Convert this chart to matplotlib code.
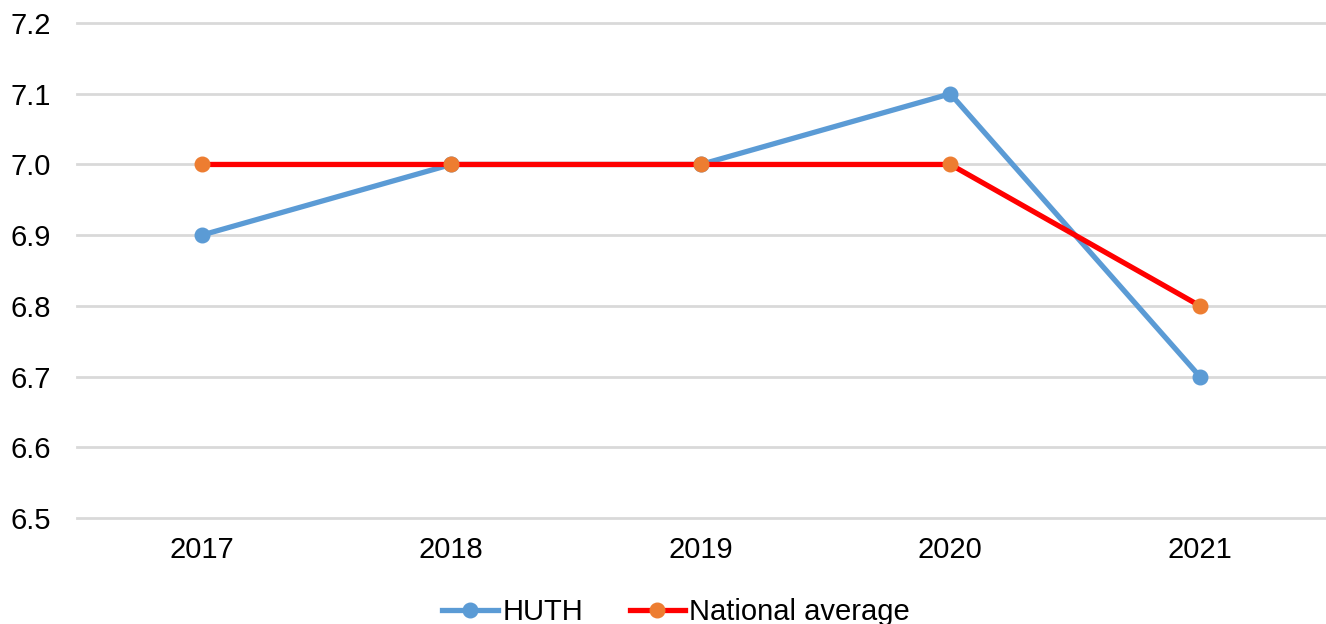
import matplotlib.pyplot as plt

years = ["2017", "2018", "2019", "2020", "2021"]
huth = [6.9, 7.0, 7.0, 7.1, 6.7]
national = [7.0, 7.0, 7.0, 7.0, 6.8]
y_ticks = [6.5, 6.6, 6.7, 6.8, 6.9, 7.0, 7.1, 7.2]

plt.rcParams['font.family'] = ['Liberation Sans', 'DejaVu Sans']

fig = plt.figure(figsize=(13.26, 6.24), dpi=100)
ax = fig.add_axes([0.058, 0.170, 0.941, 0.793])

x = list(range(len(years)))
ax.plot(x, huth, color='#5B9BD5', lw=3.8, marker='o', markersize=10.5,
        markerfacecolor='#5B9BD5', markeredgecolor='#5B9BD5', label='HUTH', zorder=3)
ax.plot(x, national, color='#FF0000', lw=3.8, marker='o', markersize=10.5,
        markerfacecolor='#ED7D31', markeredgecolor='#ED7D31', label='National average', zorder=4)

ax.set_xlim(-0.5, len(years) - 0.5)
ax.set_ylim(6.5, 7.2)
ax.set_xticks(x)
ax.set_xticklabels(years)
ax.set_yticks(y_ticks)
ax.set_yticklabels([f"{v:.1f}" for v in y_ticks])
ax.tick_params(length=0, labelsize=21, colors='#000000')
ax.tick_params(axis='x', pad=13)
ax.tick_params(axis='y', pad=19)
ax.grid(axis='y', color='#D9D9D9', lw=2)
for gl in ax.get_ygridlines():
    gl.set_clip_on(False)
ax.set_axisbelow(True)
for s in ax.spines.values():
    s.set_visible(False)

fig.legend(loc='lower center', bbox_to_anchor=(0.510, -0.045), ncol=2, frameon=False,
           fontsize=21, handlelength=1.9, handletextpad=0.15, columnspacing=1.6)

fig.savefig('out.png', dpi=100)
